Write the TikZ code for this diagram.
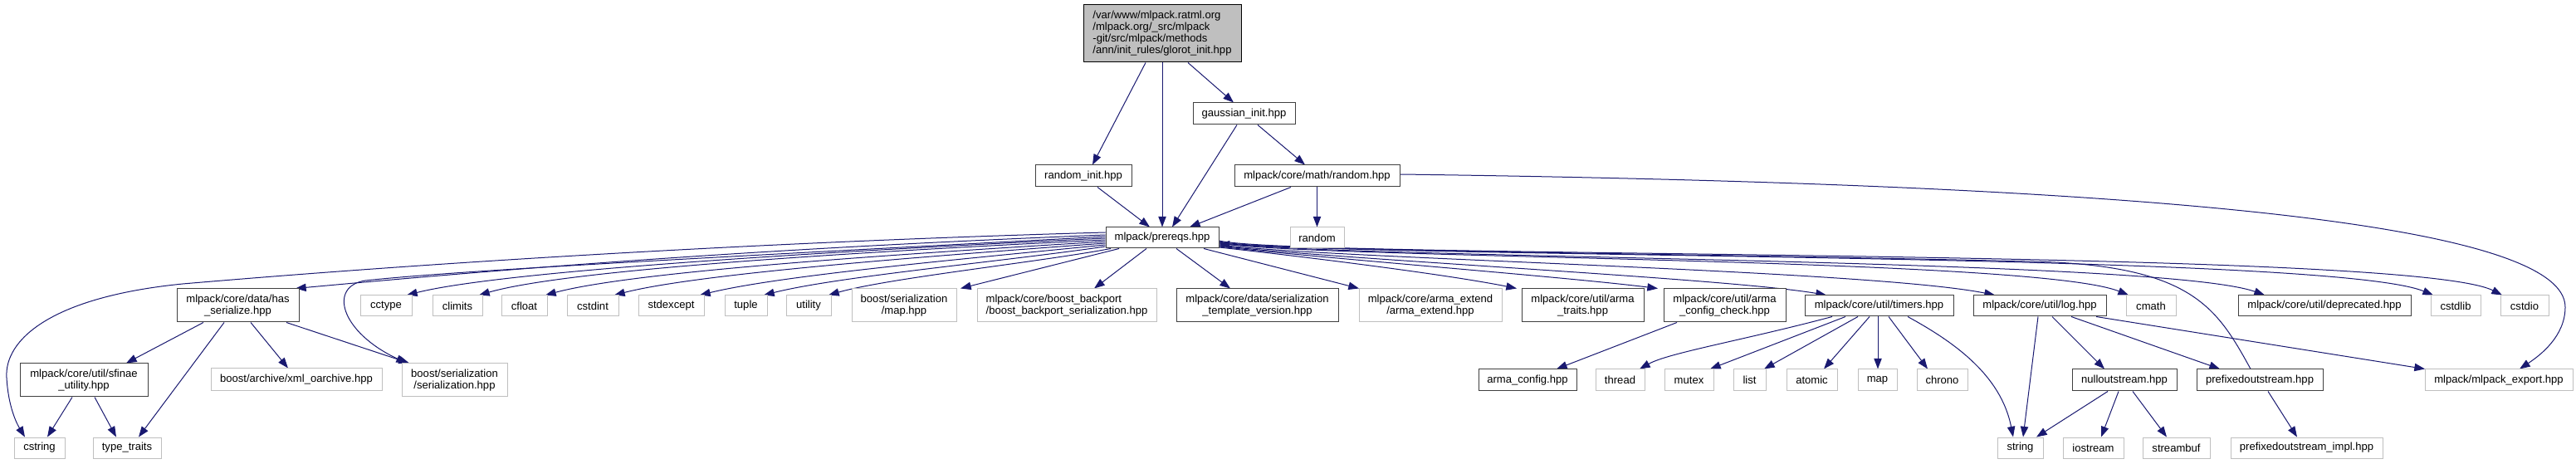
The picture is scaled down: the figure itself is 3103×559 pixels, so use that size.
\documentclass[tikz,border=0pt]{standalone}
\usepackage{fontspec}
\setmainfont{Liberation Sans}
\usetikzlibrary{arrows.meta}
\definecolor{edgec}{HTML}{191970}
\definecolor{lgray}{HTML}{BFBFBF}
\definecolor{dgray}{HTML}{404040}
\pgfdeclarelayer{bg}
\pgfsetlayers{bg,main}
\tikzset{
  base/.style={rectangle, inner sep=0pt, font=\fontsize{9.8}{10.5}\selectfont, text=black, line width=0.75pt, align=center},
  doc/.style={base, draw=dgray, fill=white},
  undoc/.style={base, draw=lgray, fill=white},
  undocl/.style={undoc, align=left},
  topn/.style={base, draw=black, fill=lgray, align=left},
  edge/.style={draw=edgec, line width=0.75pt, -{Triangle[length=9.5pt,width=7pt]}}
}
\newcommand\gnode[7]{\node[#1, minimum width={(#5-#3)*0.75pt}, minimum height={(#6-#4)*0.75pt}] (#2) at ({(#3+#5)/2},{(#4+#6)/2}) {#7};}
\begin{document}
\begin{tikzpicture}[x=0.75pt,y=-0.75pt]
\useasboundingbox (0,0) rectangle (3103,559);
% nodes
\gnode{topn}{glorot}{1305}{6}{1495}{75}{/var/www/mlpack.ratml.org\\/mlpack.org/\_src/mlpack\\-git/src/mlpack/methods\\/ann/init\_rules/glorot\_init.hpp}
\gnode{doc}{gauss}{1437}{124}{1560}{150}{gaussian\_init.hpp}
\gnode{doc}{rinit}{1247}{199}{1363}{225}{random\_init.hpp}
\gnode{doc}{rnd}{1487}{199}{1686}{225}{mlpack/core/math/random.hpp}
\gnode{doc}{prereqs}{1332}{274}{1468}{299}{mlpack/prereqs.hpp}
\gnode{undoc}{random}{1554}{274}{1619}{299}{random}
\gnode{doc}{hasser}{213}{348}{360}{388}{mlpack/core/data/has\\\_serialize.hpp}
\gnode{undoc}{cctype}{434}{356}{496}{381}{cctype}
\gnode{undoc}{climits}{521}{356}{581}{381}{climits}
\gnode{undoc}{cfloat}{604}{356}{659}{381}{cfloat}
\gnode{undoc}{cstdint}{683}{356}{745}{381}{cstdint}
\gnode{undoc}{stdexc}{769}{356}{848}{381}{stdexcept}
\gnode{undoc}{tuple}{873}{356}{924}{381}{tuple}
\gnode{undoc}{utility}{947}{356}{1001}{381}{utility}
\gnode{undoc}{bmap}{1026}{348}{1152}{388}{boost/serialization\\/map.hpp}
\gnode{undocl}{bback}{1177}{348}{1393}{388}{mlpack/core/boost\_backport\\/boost\_backport\_serialization.hpp}
\gnode{doc}{stv}{1417}{348}{1612}{388}{mlpack/core/data/serialization\\\_template\_version.hpp}
\gnode{undoc}{aext}{1637}{348}{1809}{388}{mlpack/core/arma\_extend\\/arma\_extend.hpp}
\gnode{doc}{atraits}{1833}{348}{1980}{388}{mlpack/core/util/arma\\\_traits.hpp}
\gnode{doc}{acc}{2004}{348}{2151}{388}{mlpack/core/util/arma\\\_config\_check.hpp}
\gnode{doc}{timers}{2174}{356}{2353}{381}{mlpack/core/util/timers.hpp}
\gnode{doc}{log}{2377}{356}{2537}{381}{mlpack/core/util/log.hpp}
\gnode{undoc}{cmath}{2561}{356}{2621}{381}{cmath}
\gnode{doc}{depr}{2696}{356}{2904}{381}{mlpack/core/util/deprecated.hpp}
\gnode{undoc}{cstdlib}{2928}{356}{2988}{381}{cstdlib}
\gnode{undoc}{cstdio}{3012}{356}{3070}{381}{cstdio}
\gnode{doc}{sfinae}{24}{438}{178}{478}{mlpack/core/util/sfinae\\\_utility.hpp}
\gnode{undoc}{xmlarch}{254}{444}{460}{471}{boost/archive/xml\_oarchive.hpp}
\gnode{undoc}{bser}{484}{438}{611}{478}{boost/serialization\\/serialization.hpp}
\gnode{doc}{aconf}{1781}{445}{1899}{471}{arma\_config.hpp}
\gnode{undoc}{thread}{1922}{445}{1981}{471}{thread}
\gnode{undoc}{mutex}{2005}{445}{2064}{471}{mutex}
\gnode{undoc}{list}{2088}{445}{2127}{471}{list}
\gnode{undoc}{atomic}{2152}{445}{2213}{471}{atomic}
\gnode{undoc}{smap}{2238}{445}{2285}{471}{map}
\gnode{undoc}{chrono}{2309}{445}{2370}{471}{chrono}
\gnode{doc}{nullos}{2496}{445}{2622}{471}{nulloutstream.hpp}
\gnode{doc}{prefos}{2646}{445}{2798}{471}{prefixedoutstream.hpp}
\gnode{undoc}{mexport}{2921}{445}{3099}{471}{mlpack/mlpack\_export.hpp}
\gnode{undoc}{cstring}{17}{527}{78}{552}{cstring}
\gnode{undoc}{typetr}{112}{527}{194}{552}{type\_traits}
\gnode{undoc}{string}{2406}{527}{2461}{552}{string}
\gnode{undoc}{iostream}{2485}{527}{2558}{552}{iostream}
\gnode{undoc}{streambuf}{2581}{527}{2662}{552}{streambuf}
\gnode{undoc}{prefimpl}{2687}{527}{2870}{552}{prefixedoutstream\_impl.hpp}
\begin{pgfonlayer}{bg}
% top edges
\draw[edge] (1380,0 |- glorot.south) -- (1316,0 |- rinit.north);
\draw[edge] (glorot.south) -- (prereqs.north);
\draw[edge] (1431,0 |- glorot.south) -- (1486,0 |- gauss.north);
\draw[edge] (1322,0 |- rinit.south) -- (1385,0 |- prereqs.north);
\draw[edge] (1490,0 |- gauss.south) -- (1412,0 |- prereqs.north);
\draw[edge] (1515,0 |- gauss.south) -- (1572,0 |- rnd.north);
\draw[edge] (1555,0 |- rnd.south) -- (1433,0 |- prereqs.north);
\draw[edge] (rnd.south) -- (random.north);
\draw[edge] (rnd.east |- 0,210) .. controls (2600,222) and (3090,270) .. (3090,370) .. controls (3090,405) and (3060,428) .. (3035,0 |- mexport.north);
% prereqs left
\draw[edge] (prereqs.west |- 0,280) .. controls (900,292) and (500,318) .. (220,342) .. controls (60,358) and (5,410) .. (8,455) .. controls (10,490) and (20,510) .. (30,0 |- cstring.north);
\draw[edge] (prereqs.west |- 0,283) .. controls (900,300) and (600,325) .. (356,0 |- hasser.north);
\draw[edge] (prereqs.west |- 0,285) .. controls (900,308) and (560,325) .. (440,338) .. controls (395,345) and (410,400) .. (490,0 |- bser.north);
\draw[edge] (prereqs.west |- 0,287) .. controls (950,305) and (600,328) .. (490,0 |- cctype.north);
\draw[edge] (prereqs.west |- 0,289) .. controls (1000,305) and (680,326) .. (577,0 |- climits.north);
\draw[edge] (prereqs.west |- 0,291) .. controls (1050,308) and (760,328) .. (657,0 |- cfloat.north);
\draw[edge] (prereqs.west |- 0,293) .. controls (1100,310) and (840,330) .. (740,0 |- cstdint.north);
\draw[edge] (prereqs.west |- 0,295) .. controls (1150,313) and (940,332) .. (843,0 |- stdexc.north);
\draw[edge] (prereqs.west |- 0,297) .. controls (1200,316) and (1010,333) .. (920,0 |- tuple.north);
\draw[edge] (1338,0 |- prereqs.south) .. controls (1250,316) and (1070,335) .. (998,0 |- utility.north);
\draw[edge] (1348,0 |- prereqs.south) -- (1157,0 |- bmap.north);
\draw[edge] (1381,0 |- prereqs.south) -- (1318,0 |- bback.north);
\draw[edge] (1417,0 |- prereqs.south) -- (1482,0 |- stv.north);
\draw[edge] (1450,0 |- prereqs.south) -- (1637,0 |- aext.north);
% prereqs right
\draw[edge] (prereqs.east |- 0,298) .. controls (1560,308) and (1740,330) .. (1827,0 |- atraits.north);
\draw[edge] (prereqs.east |- 0,297) .. controls (1580,310) and (1880,333) .. (1997,0 |- acc.north);
\draw[edge] (prereqs.east |- 0,296) .. controls (1600,312) and (2080,335) .. (2200,0 |- timers.north);
\draw[edge] (prereqs.east |- 0,295) .. controls (1600,312) and (2250,325) .. (2403,0 |- log.north);
\draw[edge] (prereqs.east |- 0,293) .. controls (1580,312) and (2450,310) .. (2564,0 |- cmath.north);
\draw[edge] (prereqs.east |- 0,292) .. controls (1580,312) and (2600,310) .. (2728,0 |- depr.north);
\draw[edge] (prereqs.east |- 0,291) .. controls (1570,312) and (2800,302) .. (2931,0 |- cstdlib.north);
\draw[edge] (prereqs.east |- 0,290) .. controls (1560,312) and (2900,298) .. (3014,0 |- cstdio.north);
\draw[edge] (2711,0 |- prefos.north) .. controls (2670,370) and (2640,320) .. (2450,315) .. controls (2000,305) and (1650,303) .. (prereqs.east |- 0,294);
% has_serialize
\draw[edge] (245,0 |- hasser.south) -- (152,0 |- sfinae.north);
\draw[edge] (270,0 |- hasser.south) -- (167,0 |- typetr.north);
\draw[edge] (302,0 |- hasser.south) -- (347,0 |- xmlarch.north);
\draw[edge] (345,0 |- hasser.south) -- (493,0 |- bser.north);
\draw[edge] (87,0 |- sfinae.south) -- (57,0 |- cstring.north);
\draw[edge] (114,0 |- sfinae.south) -- (140,0 |- typetr.north);
% arma config
\draw[edge] (2020,0 |- acc.south) -- (1875,0 |- aconf.north);
% timers
\draw[edge] (2207,0 |- timers.south) .. controls (2100,410) and (2010,425) .. (1975,0 |- thread.north);
\draw[edge] (2223,0 |- timers.south) -- (2060,0 |- mutex.north);
\draw[edge] (2238,0 |- timers.south) -- (2125,0 |- list.north);
\draw[edge] (2252,0 |- timers.south) -- (2197,0 |- atomic.north);
\draw[edge] (2262,0 |- timers.south) -- (2262,0 |- smap.north);
\draw[edge] (2275,0 |- timers.south) -- (2322,0 |- chrono.north);
\draw[edge] (2298,0 |- timers.south) .. controls (2350,410) and (2410,450) .. (2425,0 |- string.north);
% log
\draw[edge] (2455,0 |- log.south) -- (2437,0 |- string.north);
\draw[edge] (2472,0 |- log.south) -- (2535,0 |- nullos.north);
\draw[edge] (2495,0 |- log.south) -- (2674,0 |- prefos.north);
\draw[edge] (2525,0 |- log.south) -- (2921,0 |- mexport.north);
% nulloutstream
\draw[edge] (2539,0 |- nullos.south) -- (2453,0 |- string.north);
\draw[edge] (2552,0 |- nullos.south) -- (2531,0 |- iostream.north);
\draw[edge] (2569,0 |- nullos.south) -- (2610,0 |- streambuf.north);
\draw[edge] (2732,0 |- prefos.south) -- (2767,0 |- prefimpl.north);
\end{pgfonlayer}
\end{tikzpicture}
\end{document}
